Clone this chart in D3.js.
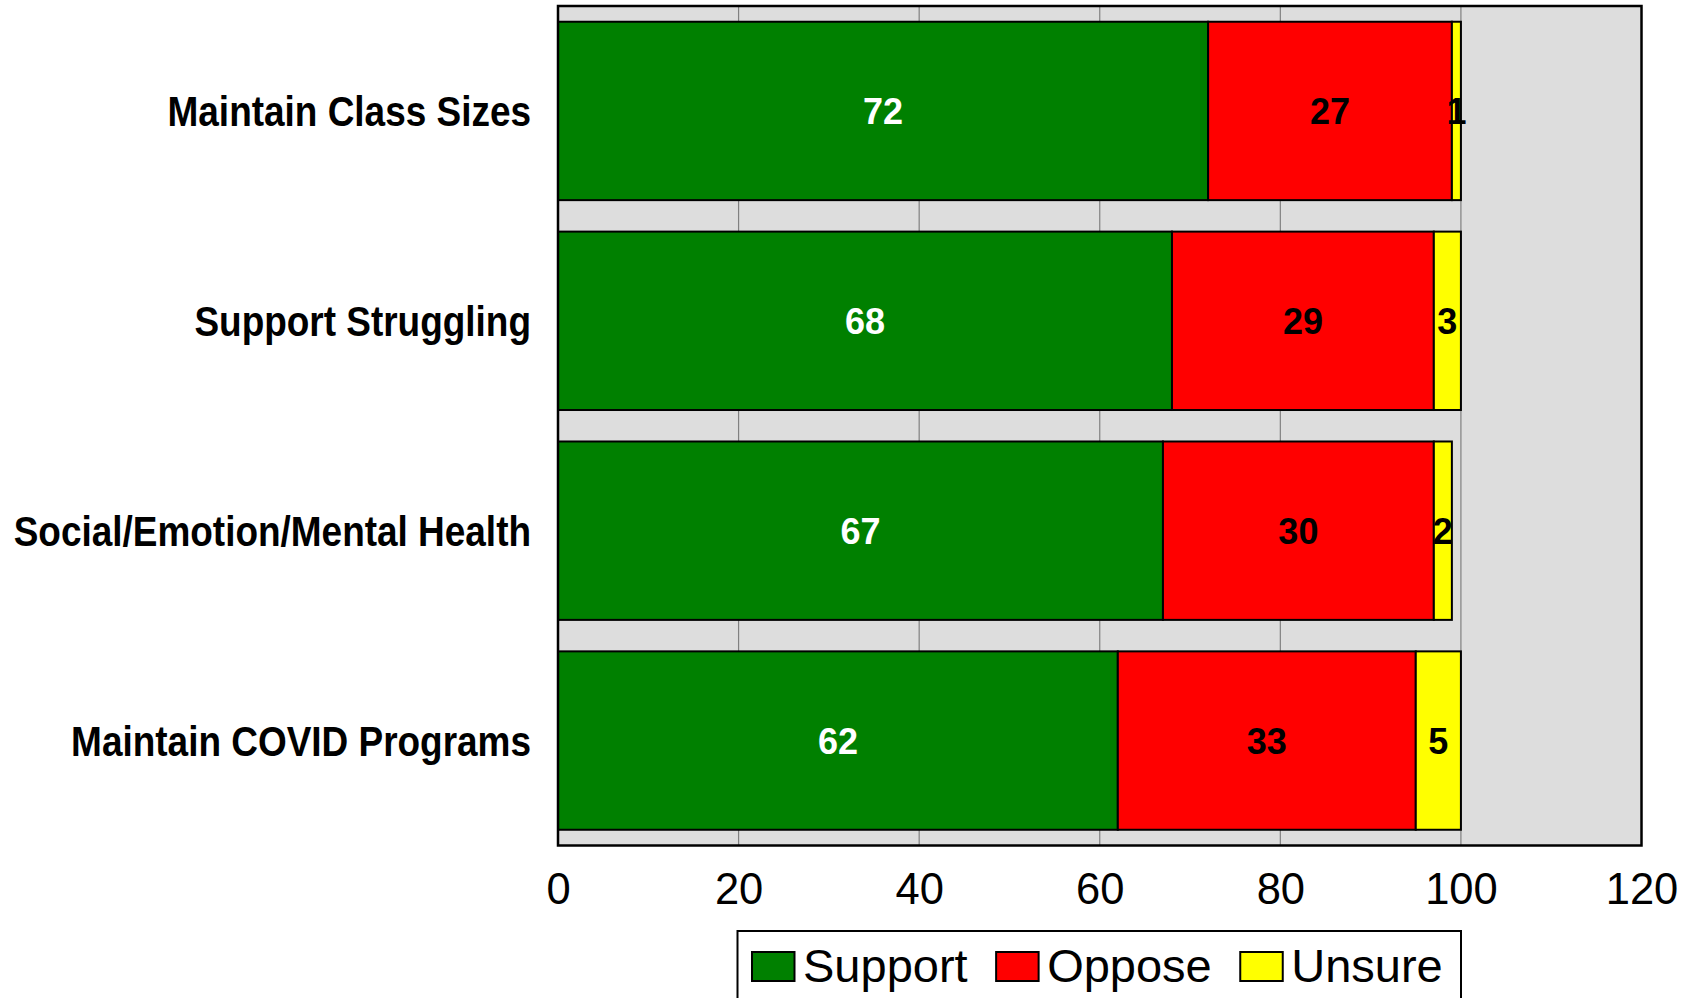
<!DOCTYPE html>
<html>
<head>
<meta charset="utf-8">
<script src="https://cdn.jsdelivr.net/npm/d3@7"></script>
<style>
  html, body { margin: 0; padding: 0; background: #ffffff; }
  svg { display: block; font-family: "Liberation Sans", Arial, Helvetica, sans-serif; }
</style>
</head>
<body>
<svg id="chart" width="1698" height="998"></svg>
<script>
const categories = ["Maintain Class Sizes", "Support Struggling", "Social/Emotion/Mental Health", "Maintain COVID Programs"];
const seriesNames = ["Support", "Oppose", "Unsure"];
const support = [72, 68, 67, 62];
const oppose = [27, 29, 30, 33];
const unsure = [1, 3, 2, 5];
const xTicks = [0, 20, 40, 60, 80, 100, 120];
const colors = ["#008000", "#ff0000", "#ffff00"];
const labelColors = ["#ffffff", "#000000", "#000000"];

const svg = d3.select("#chart");
const pLeft = 558, pRight = 1641.5, pTop = 6, pBottom = 845.5;

const x = d3.scaleLinear().domain([0, 120]).range([pLeft, pRight]);
const y = d3.scaleBand().domain(categories).range([pTop, pBottom]).paddingInner(0.15).paddingOuter(0.075);

// plot background
svg.append("rect").attr("x", pLeft).attr("y", pTop).attr("width", pRight - pLeft).attr("height", pBottom - pTop)
  .attr("fill", "#dddddd");

// gridlines
svg.append("g").selectAll("line").data(xTicks.filter(d => d > 0 && d < 120)).join("line")
  .attr("x1", d => x(d)).attr("x2", d => x(d)).attr("y1", pTop).attr("y2", pBottom)
  .attr("stroke", "#808080").attr("stroke-width", 1.2);

// stacked data
const rows = categories.map((c, i) => ({ cat: c, Support: support[i], Oppose: oppose[i], Unsure: unsure[i] }));
const stack = d3.stack().keys(seriesNames)(rows);

const layers = svg.append("g").selectAll("g").data(stack).join("g")
  .attr("fill", (d, i) => colors[i]);

layers.selectAll("rect").data(d => d).join("rect")
  .attr("x", d => x(d[0]))
  .attr("y", d => y(d.data.cat))
  .attr("width", d => x(d[1]) - x(d[0]))
  .attr("height", y.bandwidth())
  .attr("stroke", "#000").attr("stroke-width", 2);

// value labels
stack.forEach((layer, li) => {
  svg.append("g").selectAll("text").data(layer).join("text")
    .attr("x", d => (x(d[0]) + x(d[1])) / 2)
    .attr("y", d => y(d.data.cat) + y.bandwidth() / 2 + 13)
    .attr("text-anchor", "middle")
    .attr("font-size", 36).attr("font-weight", "bold")
    .attr("fill", labelColors[li])
    .text(d => d[1] - d[0]);
});

// plot border
svg.append("rect").attr("x", pLeft).attr("y", pTop).attr("width", pRight - pLeft).attr("height", pBottom - pTop)
  .attr("fill", "none").attr("stroke", "#000").attr("stroke-width", 2.5);

// x axis tick labels
const xAxis = d3.axisBottom(x).tickValues(xTicks).tickSize(0).tickPadding(0);
const gx = svg.append("g").attr("transform", `translate(0,${pBottom})`).call(xAxis);
gx.select(".domain").remove();
gx.selectAll("text").attr("font-size", 43.5).attr("font-family", "Liberation Sans, Arial, sans-serif")
  .attr("fill", "#000").attr("dy", null).attr("y", 58.5);

// category labels
const yAxis = d3.axisLeft(y).tickSize(0).tickPadding(0);
const gy = svg.append("g").attr("transform", `translate(531,0)`).call(yAxis);
gy.select(".domain").remove();
gy.selectAll(".tick text")
  .attr("font-size", 42).attr("font-weight", "bold").attr("font-family", "Liberation Sans, Arial, sans-serif")
  .attr("fill", "#000").attr("x", 0).attr("dy", null).attr("y", 15)
  .attr("text-anchor", "end")
  .attr("transform", "scale(0.88,1)");

// legend
const leg = svg.append("g");
leg.append("rect").attr("x", 737.5).attr("y", 931).attr("width", 1461 - 737.5).attr("height", 80)
  .attr("fill", "#fff").attr("stroke", "#000").attr("stroke-width", 2);
let lx = 752;
seriesNames.forEach((name, i) => {
  leg.append("rect").attr("x", lx).attr("y", 952).attr("width", 42.5).attr("height", 29)
    .attr("fill", colors[i]).attr("stroke", "#000").attr("stroke-width", 2);
  const t = leg.append("text").attr("x", lx + 51).attr("y", 981.5)
    .attr("font-size", 47).attr("fill", "#000").text(name);
  lx = lx + 51 + t.node().getComputedTextLength() + 28.5;
});
</script>
</body>
</html>
